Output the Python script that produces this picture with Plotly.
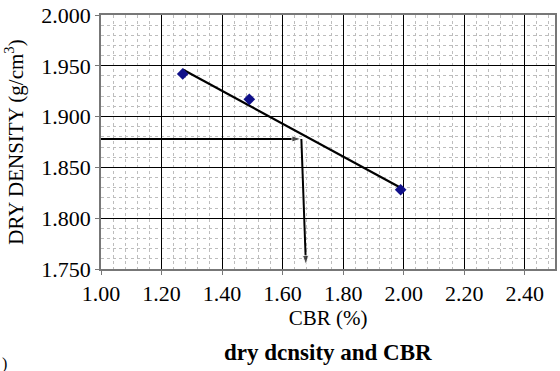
import numpy as np
import plotly.graph_objects as go

# Data
cbr = [1.27, 1.49, 1.99]
dry_density = [1.942, 1.917, 1.828]

# Reading arrows (design density -> CBR)
read_density = 1.878
read_cbr_top = 1.662
read_cbr_bottom = 1.677
axis_x_min = 1.00
axis_y_min = 1.750

x_ticks = [1.00, 1.20, 1.40, 1.60, 1.80, 2.00, 2.20, 2.40]
y_ticks = [1.750, 1.800, 1.850, 1.900, 1.950, 2.000]

# linear trendline through the points
m, b = np.polyfit(cbr, dry_density, 1)
trend_x = [min(cbr), max(cbr)]
trend_y = [float(m * v + b) for v in trend_x]

font_fam = "Times New Roman"
tick_font = dict(family=font_fam, size=22, color="black")
title_font = dict(family=font_fam, size=21, color="black")

fig = go.Figure()
fig.add_trace(go.Scatter(x=trend_x, y=trend_y, mode="lines",
                         line=dict(color="black", width=2.2), showlegend=False))
fig.add_trace(go.Scatter(x=cbr, y=dry_density, mode="markers",
                         marker=dict(symbol="diamond", size=9, color="#10108a"),
                         showlegend=False))

# arrows as line traces with arrow markers at their ends
fig.add_trace(go.Scatter(x=[axis_x_min, read_cbr_top], y=[read_density, read_density],
                         mode="lines+markers", line=dict(color="black", width=2),
                         marker=dict(symbol=["circle", "arrow"], size=[0, 10], color="black",
                                     angleref="previous"),
                         showlegend=False, hoverinfo="skip"))
fig.add_trace(go.Scatter(x=[read_cbr_top, read_cbr_bottom], y=[read_density, axis_y_min + 0.004],
                         mode="lines+markers", line=dict(color="black", width=2),
                         marker=dict(symbol=["circle", "arrow"], size=[0, 10], color="black",
                                     angleref="previous"),
                         showlegend=False, hoverinfo="skip", cliponaxis=False))

fig.add_annotation(text="<b>dry dcnsity and CBR</b>", xref="paper", yref="paper",
                   x=0.5, y=-0.328, xanchor="center", yanchor="middle", showarrow=False,
                   font=dict(family=font_fam, size=23, color="black"))
fig.add_annotation(text=")", xref="paper", yref="paper", x=-0.222, y=-0.375,
                   xanchor="left", yanchor="middle", showarrow=False,
                   font=dict(family=font_fam, size=16, color="black"))

fig.update_xaxes(range=[1.0, 2.5], tickvals=x_ticks,
                 ticktext=[f"{v:.2f}" for v in x_ticks],
                 showgrid=True, gridcolor="black", gridwidth=1.3,
                 minor=dict(dtick=0.04, showgrid=True, gridcolor="#bdbdbd",
                            griddash="dot", gridwidth=1),
                 ticks="outside", ticklen=4, tickcolor="#777",
                 showline=True, linecolor="#777", linewidth=1.5, mirror=True,
                 zeroline=False, tickfont=tick_font,
                 title=dict(text="CBR (%)", standoff=5, font=title_font))
fig.update_yaxes(range=[1.75, 2.0], tickvals=y_ticks,
                 ticktext=[f"{v:.3f}" for v in y_ticks],
                 showgrid=True, gridcolor="black", gridwidth=1.3,
                 minor=dict(dtick=0.01, showgrid=True, gridcolor="#bdbdbd",
                            griddash="dot", gridwidth=1),
                 ticks="outside", ticklen=4, tickcolor="#777",
                 showline=True, linecolor="#777", linewidth=1.5, mirror=True,
                 zeroline=False, tickfont=tick_font,
                 title=dict(text="DRY DENSITY (g/cm<sup>3</sup>)", standoff=12, font=title_font))

fig.update_layout(width=560, height=371,
                  margin=dict(l=101, r=3, t=13, b=102),
                  plot_bgcolor="white", paper_bgcolor="white",
                  font=dict(family=font_fam, color="black"))

fig.write_html("out.html")
